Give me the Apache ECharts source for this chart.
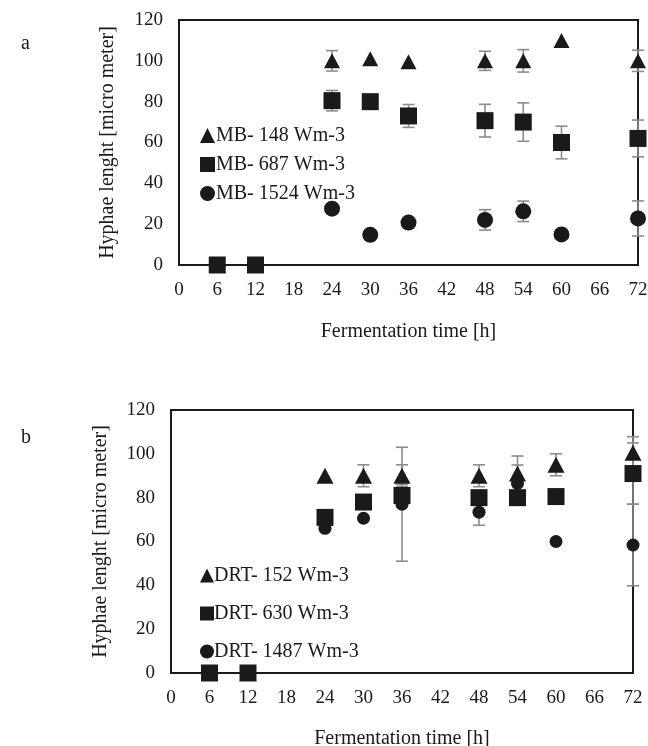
<!DOCTYPE html>
<html>
<head>
<meta charset="utf-8">
<script src="https://cdn.jsdelivr.net/npm/echarts@6/dist/echarts.min.js"></script>
<style>html,body{margin:0;padding:0;background:#fff}#c{width:648px;height:746px}</style>
</head>
<body>
<div id="c"></div>
<script>
// ---- data ----
const hours = [6, 12, 24, 30, 36, 48, 54, 60, 72];
const xTicks = [0, 6, 12, 18, 24, 30, 36, 42, 48, 54, 60, 66, 72];
const yTicks = [0, 20, 40, 60, 80, 100, 120];

// Panel a (MB)
const mb148 = [0, 0, 100, 101, 99.5, 100, 100, 110, 100];
const mb148Err = [0, 0, 5, 0, 0, 4.7, 5.5, 0, 5.2];
const mb687 = [0, 0, 80.5, 80, 73, 70.7, 70, 60, 62];
const mb687Err = [0, 0, 5, 0, 5.6, 8, 9.4, 8, 9];
const mb1524 = [0, 0, 27.6, 14.8, 20.8, 22.1, 26.3, 15, 22.8];
const mb1524Err = [0, 0, 0, 0, 0, 5, 5, 0, 8.6];

// Panel b (DRT)
const drt152 = [0, 0, 90, 90, 90, 90, 91, 95, 100.5];
const drt152Err = [0, 0, 0, 5, 5, 5, 8, 5, 7.3];
const drt630 = [0, 0, 71, 78, 81, 80, 80, 80.5, 91];
const drt630Err = [0, 0, 0, 0, 5, 0, 0, 0, 14];
const drt1487 = [0, 0, 66, 70.6, 77, 73.4, 86.5, 60, 58.4];
const drt1487Err = [0, 0, 0, 0, 26, 6, 8.4, 0, 18.6];

const namesA = ['MB- 148 Wm-3', 'MB- 687 Wm-3', 'MB- 1524 Wm-3'];
const namesB = ['DRT- 152 Wm-3', 'DRT- 630 Wm-3', 'DRT- 1487 Wm-3'];

// ---- chart ----
const FONT = 'Liberation Serif';
const chart = echarts.init(document.getElementById('c'), null, {renderer: 'canvas'});

function pts(vals) { return hours.map((h, i) => [h, vals[i]]); }
function errPts(vals, errs) { return hours.map((h, i) => [h, vals[i], errs[i]]); }

function errSeries(vals, errs, idx) {
  return {
    type: 'custom', xAxisIndex: idx, yAxisIndex: idx, z: 1, silent: true,
    data: errPts(vals, errs),
    renderItem: function (params, api) {
      const x = api.value(0), y = api.value(1), e = api.value(2);
      if (!e) return null;
      const t = api.coord([x, y + e]);
      const b = api.coord([x, y - e]);
      const w = 6;
      const st = {stroke: '#8c8c8c', lineWidth: 1.6};
      return {
        type: 'group',
        children: [
          {type: 'line', shape: {x1: t[0], y1: t[1], x2: b[0], y2: b[1]}, style: st},
          {type: 'line', shape: {x1: t[0] - w, y1: t[1], x2: t[0] + w, y2: t[1]}, style: st},
          {type: 'line', shape: {x1: b[0] - w, y1: b[1], x2: b[0] + w, y2: b[1]}, style: st}
        ]
      };
    }
  };
}

function scatter(name, vals, idx, symbol, size, z) {
  return {
    name: name, type: 'scatter', xAxisIndex: idx, yAxisIndex: idx,
    data: pts(vals), symbol: symbol, symbolSize: size, clip: false, z: z,
    itemStyle: {color: '#1a1a1a', opacity: 1}
  };
}

function xAxis(idx) {
  return {
    type: 'value', gridIndex: idx, min: 0, max: 72, interval: 6,
    axisLine: {show: true, lineStyle: {color: '#1a1a1a', width: 2}},
    axisTick: {show: false}, splitLine: {show: false},
    axisLabel: {color: '#1a1a1a', fontFamily: FONT, fontSize: 19, margin: 16},
    name: 'Fermentation time [h]', nameLocation: 'middle', nameGap: idx === 0 ? 57 : 56,
    nameTextStyle: {color: '#1a1a1a', fontFamily: FONT, fontSize: 20}
  };
}
function yAxis(idx) {
  return {
    type: 'value', gridIndex: idx, min: 0, max: 120, interval: 20,
    axisLine: {show: true, lineStyle: {color: '#1a1a1a', width: 2}},
    axisTick: {show: false}, splitLine: {show: false},
    axisLabel: {color: '#1a1a1a', fontFamily: FONT, fontSize: 19, margin: 16},
    name: 'Hyphae lenght [micro meter]', nameLocation: 'middle', nameGap: idx === 0 ? 61 : 60,
    nameTextStyle: {color: '#1a1a1a', fontFamily: FONT, fontSize: 20}
  };
}

const option = {
  backgroundColor: '#fff',
  animation: false,
  textStyle: {fontFamily: FONT},
  grid: [
    {left: 179, top: 20, right: 10, bottom: 481, show: true, borderColor: '#1a1a1a', borderWidth: 2, backgroundColor: 'transparent', outerBoundsMode: 'none', containLabel: false},
    {left: 171, top: 410, right: 15, bottom: 73, show: true, borderColor: '#1a1a1a', borderWidth: 2, backgroundColor: 'transparent', outerBoundsMode: 'none', containLabel: false}
  ],
  xAxis: [xAxis(0), xAxis(1)],
  yAxis: [yAxis(0), yAxis(1)],
  legend: [
    {
      data: namesA, orient: 'vertical', left: 195, top: 119, itemGap: 6,
      itemWidth: 15, itemHeight: 15, itemStyle: {color: '#1a1a1a'},
      textStyle: {color: '#1a1a1a', fontFamily: FONT, fontSize: 20, lineHeight: 20, padding: [3, 0, 0, -4]},
      selectedMode: false
    },
    {
      data: namesB, orient: 'vertical', left: 195, top: 559, itemGap: 15,
      itemWidth: 14, itemHeight: 14, itemStyle: {color: '#1a1a1a'},
      textStyle: {color: '#1a1a1a', fontFamily: FONT, fontSize: 20, lineHeight: 20, padding: [3, 0, 0, -5]},
      selectedMode: false
    }
  ],
  graphic: [
    {type: 'text', left: 21, top: 34, style: {text: 'a', font: '20px "Liberation Serif"', fill: '#1a1a1a'}},
    {type: 'text', left: 21, top: 428, style: {text: 'b', font: '20px "Liberation Serif"', fill: '#1a1a1a'}}
  ],
  series: [
    errSeries(mb148, mb148Err, 0),
    errSeries(mb687, mb687Err, 0),
    errSeries(mb1524, mb1524Err, 0),
    scatter(namesA[0], mb148, 0, 'triangle', [16, 15], 3),
    scatter(namesA[1], mb687, 0, 'rect', 17, 4),
    scatter(namesA[2], mb1524, 0, 'circle', 16, 3),
    errSeries(drt152, drt152Err, 1),
    errSeries(drt630, drt630Err, 1),
    errSeries(drt1487, drt1487Err, 1),
    scatter(namesB[0], drt152, 1, 'triangle', [17, 16], 3),
    scatter(namesB[1], drt630, 1, 'rect', 17, 4),
    scatter(namesB[2], drt1487, 1, 'circle', 13, 3)
  ]
};
chart.setOption(option);
</script>
</body>
</html>
